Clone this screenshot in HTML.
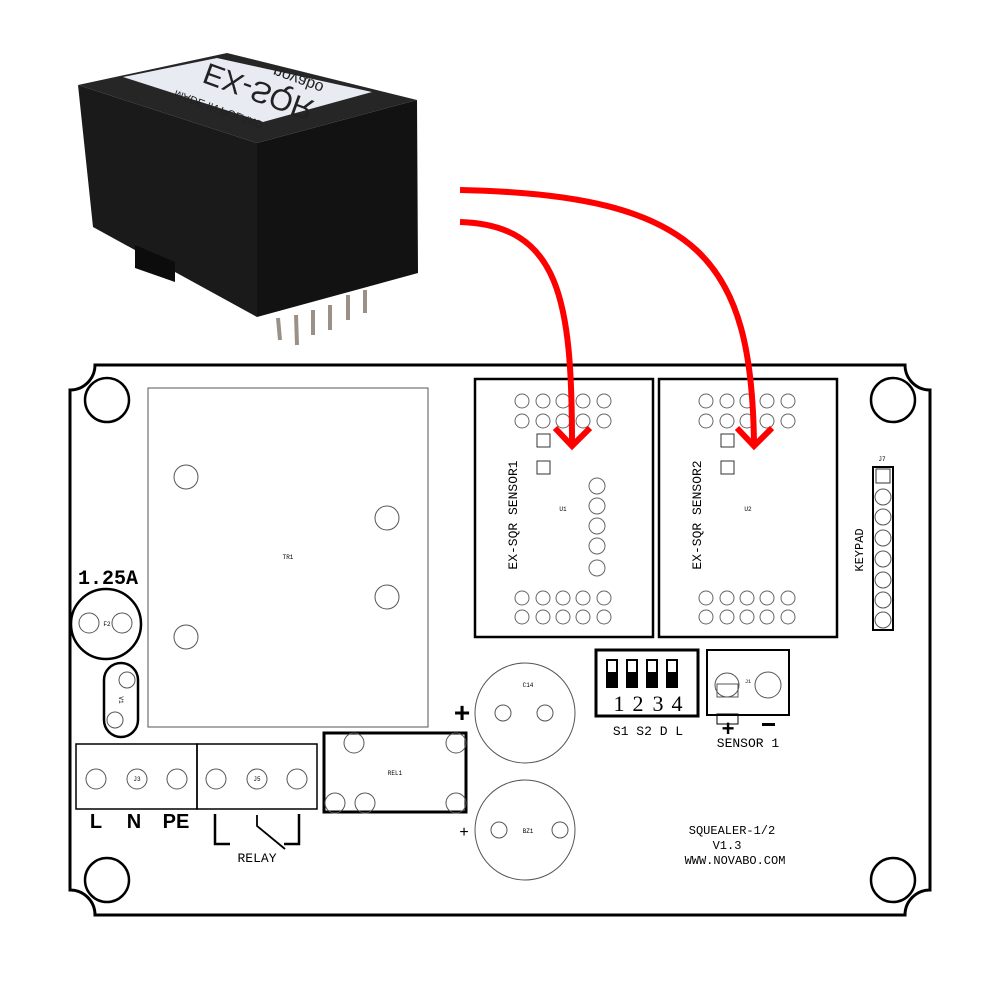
<!DOCTYPE html>
<html><head><meta charset="utf-8"><style>html,body{margin:0;padding:0;background:#fff}svg{display:block}</style></head>
<body>
<svg width="1000" height="1000" viewBox="0 0 1000 1000" xmlns="http://www.w3.org/2000/svg" font-family="Liberation Mono, monospace">
<rect width="1000" height="1000" fill="#fff"/>
<!-- module photo -->
<polygon points="78,85 257,143 257,317 93,227" fill="#1a1a1a"/>
<polygon points="257,143 417,100 418,273 257,317" fill="#121212"/>
<polygon points="78,85 227,53 417,100 257,143" fill="#262626"/>
<polygon points="135,245 175,262 175,282 135,268" fill="#0c0c0c"/>
<polygon points="123,77 217,58 372,92 263,122" fill="#e8ecf2"/>
<g font-family="Liberation Sans, sans-serif" fill="#222" text-anchor="middle">
<text transform="translate(262,82) rotate(20) scale(1,-1)" font-size="30">EX-SQR</text>
<text transform="translate(220,106) rotate(20) scale(1,-1)" font-size="11">MADE IN POLAND</text>
<text transform="translate(300,75) rotate(20) scale(1,-1)" font-size="16">novabo</text>
</g>
<g stroke="#9a9088" stroke-width="4">
<line x1="278" y1="318" x2="280" y2="340"/><line x1="296" y1="315" x2="297" y2="345"/><line x1="313" y1="310" x2="313" y2="335"/><line x1="330" y1="305" x2="330" y2="330"/><line x1="348" y1="295" x2="348" y2="320"/><line x1="365" y1="290" x2="365" y2="313"/></g>
<!-- board outline -->
<path d="M95,365 H905 A25,25 0 0 0 930,390 V890 A25,25 0 0 0 905,915 H95 A25,25 0 0 0 70,890 V390 A25,25 0 0 0 95,365 Z" fill="none" stroke="#000" stroke-width="3"/>
<g fill="none" stroke="#000" stroke-width="2.5">
<circle cx="107" cy="400" r="22"/><circle cx="893" cy="400" r="22"/><circle cx="107" cy="880" r="22"/><circle cx="893" cy="880" r="22"/>
</g>
<!-- TR1 -->
<g fill="none" stroke="#555" stroke-width="1">
<rect x="148" y="388" width="280" height="339"/>
<circle cx="186" cy="477" r="12"/><circle cx="387" cy="518" r="12"/><circle cx="387" cy="597" r="12"/><circle cx="186" cy="637" r="12"/>
</g>
<text x="288" y="559" font-size="6" text-anchor="middle">TR1</text>
<!-- F2 -->
<text x="108" y="584" font-size="20" font-weight="bold" text-anchor="middle">1.25A</text>
<circle cx="106" cy="624" r="35" fill="none" stroke="#000" stroke-width="2.5"/>
<g fill="none" stroke="#555"><circle cx="89" cy="623" r="10"/><circle cx="122" cy="623" r="10"/></g>
<text x="107" y="626" font-size="6" text-anchor="middle">F2</text>
<!-- V1 -->
<rect x="104" y="663" width="34" height="74" rx="17" fill="none" stroke="#000" stroke-width="2.5"/>
<g fill="none" stroke="#555"><circle cx="127" cy="680" r="8"/><circle cx="115" cy="720" r="8"/></g>
<text x="0" y="0" font-size="6" transform="translate(119,700) rotate(90)" text-anchor="middle">V1</text>
<!-- J3 J5 -->
<g fill="none" stroke="#000" stroke-width="1.5"><rect x="76" y="744" width="121" height="65"/><rect x="197" y="744" width="120" height="65"/></g>
<g fill="none" stroke="#555"><circle cx="96" cy="779" r="10"/><circle cx="137" cy="779" r="10"/><circle cx="177" cy="779" r="10"/><circle cx="216" cy="779" r="10"/><circle cx="257" cy="779" r="10"/><circle cx="297" cy="779" r="10"/></g>
<text x="137" y="781" font-size="6" text-anchor="middle">J3</text><text x="257" y="781" font-size="6" text-anchor="middle">J5</text>
<g font-family="Liberation Sans, sans-serif" font-size="20" font-weight="bold" text-anchor="middle"><text x="96" y="828">L</text><text x="134" y="828">N</text><text x="176" y="828">PE</text></g>
<g fill="none" stroke="#000" stroke-width="2.5"><path d="M215,814 V844 H230"/><path d="M299,814 V844 H284"/><path d="M257,815 V826 L285,849" stroke-width="1.8"/></g>
<text x="257" y="862" font-size="13" text-anchor="middle">RELAY</text>
<!-- REL1 -->
<rect x="324" y="733" width="142" height="79" fill="none" stroke="#000" stroke-width="3"/>
<g fill="none" stroke="#555"><circle cx="354" cy="743" r="10"/><circle cx="456" cy="743" r="10"/><circle cx="335" cy="803" r="10"/><circle cx="365" cy="803" r="10"/><circle cx="456" cy="803" r="10"/></g>
<text x="395" y="775" font-size="6" text-anchor="middle">REL1</text>
<!-- C14 BZ1 -->
<g fill="none" stroke="#555"><circle cx="525" cy="713" r="50"/><circle cx="503" cy="713" r="8"/><circle cx="545" cy="713" r="8"/>
<circle cx="525" cy="830" r="50"/><circle cx="499" cy="830" r="8"/><circle cx="560" cy="830" r="8"/></g>
<text x="528" y="687" font-size="6" text-anchor="middle">C14</text><text x="528" y="833" font-size="6" text-anchor="middle">BZ1</text>
<text x="462" y="722" font-family="Liberation Sans, sans-serif" font-size="28" font-weight="bold" text-anchor="middle">+</text>
<text x="464" y="837" font-family="Liberation Sans, sans-serif" font-size="16" text-anchor="middle">+</text>
<!-- sensor boxes -->
<g id="s1">
<rect x="475" y="379" width="178" height="258" fill="none" stroke="#000" stroke-width="2.5"/>
<g fill="none" stroke="#666">
<circle cx="522" cy="401" r="7"/><circle cx="543" cy="401" r="7"/><circle cx="563" cy="401" r="7"/><circle cx="583" cy="401" r="7"/><circle cx="604" cy="401" r="7"/>
<circle cx="522" cy="421" r="7"/><circle cx="543" cy="421" r="7"/><circle cx="563" cy="421" r="7"/><circle cx="583" cy="421" r="7"/><circle cx="604" cy="421" r="7"/>
<circle cx="522" cy="598" r="7"/><circle cx="543" cy="598" r="7"/><circle cx="563" cy="598" r="7"/><circle cx="583" cy="598" r="7"/><circle cx="604" cy="598" r="7"/>
<circle cx="522" cy="617" r="7"/><circle cx="543" cy="617" r="7"/><circle cx="563" cy="617" r="7"/><circle cx="583" cy="617" r="7"/><circle cx="604" cy="617" r="7"/>
<rect x="537" y="434" width="13" height="13" stroke="#333"/><rect x="537" y="461" width="13" height="13" stroke="#333"/>
</g>
</g>
<g fill="none" stroke="#666"><circle cx="597" cy="486" r="8"/><circle cx="597" cy="506" r="8"/><circle cx="597" cy="526" r="8"/><circle cx="597" cy="546" r="8"/><circle cx="597" cy="568" r="8"/></g>
<use href="#s1" transform="translate(184,0)"/>
<text x="0" y="0" font-size="13" transform="translate(517,515) rotate(-90)" text-anchor="middle">EX-SQR SENSOR1</text>
<text x="0" y="0" font-size="13" transform="translate(701,515) rotate(-90)" text-anchor="middle">EX-SQR SENSOR2</text>
<text x="563" y="511" font-size="6" text-anchor="middle">U1</text><text x="748" y="511" font-size="6" text-anchor="middle">U2</text>
<!-- keypad -->
<rect x="873" y="467" width="20" height="163" fill="none" stroke="#000" stroke-width="2"/>
<rect x="876" y="469" width="14" height="14" fill="none" stroke="#333"/>
<g fill="none" stroke="#555"><circle cx="883" cy="497" r="8"/><circle cx="883" cy="517" r="8"/><circle cx="883" cy="538" r="8"/><circle cx="883" cy="559" r="8"/><circle cx="883" cy="580" r="8"/><circle cx="883" cy="600" r="8"/><circle cx="883" cy="620" r="8"/></g>
<text x="882" y="461" font-size="6" text-anchor="middle">J7</text>
<text x="0" y="0" font-size="12" transform="translate(863,550) rotate(-90)" text-anchor="middle">KEYPAD</text>
<!-- DIP -->
<rect x="596" y="650" width="102" height="66" fill="none" stroke="#000" stroke-width="3"/>
<g><rect x="606" y="659" width="12" height="29" fill="#000"/><rect x="626" y="659" width="12" height="29" fill="#000"/><rect x="646" y="659" width="12" height="29" fill="#000"/><rect x="666" y="659" width="12" height="29" fill="#000"/>
<rect x="608" y="661" width="8" height="11" fill="#fff"/><rect x="628" y="661" width="8" height="11" fill="#fff"/><rect x="648" y="661" width="8" height="11" fill="#fff"/><rect x="668" y="661" width="8" height="11" fill="#fff"/></g>
<g font-family="Liberation Serif, serif" font-size="22" text-anchor="middle"><text x="619" y="711">1</text><text x="638" y="711">2</text><text x="658" y="711">3</text><text x="677" y="711">4</text></g>
<text x="648" y="735" font-size="13" text-anchor="middle">S1 S2 D  L</text>
<!-- J1 -->
<rect x="707" y="650" width="82" height="65" fill="none" stroke="#000" stroke-width="2"/>
<g fill="none" stroke="#555"><circle cx="727" cy="685" r="12"/><rect x="717" y="684" width="21" height="13"/><circle cx="768" cy="685" r="13"/></g>
<text x="745" y="683" font-size="5">J1</text>
<rect x="717" y="714" width="21" height="10" fill="none" stroke="#000"/>
<text x="728" y="736" font-family="Liberation Sans, sans-serif" font-size="22" font-weight="bold" text-anchor="middle">+</text>
<rect x="762" y="723" width="13" height="3" fill="#000"/>
<text x="748" y="747" font-size="13" text-anchor="middle">SENSOR 1</text>
<!-- board text -->
<g font-size="12" text-anchor="middle"><text x="732" y="834">SQUEALER-1/2</text><text x="727" y="849">V1.3</text><text x="735" y="864">WWW.NOVABO.COM</text></g>
<!-- red arrows -->
<g fill="none" stroke="#f00" stroke-width="6" stroke-linecap="butt">
<path d="M460,190 C700,195 752,260 754,445"/>
<path d="M460,222 C560,225 572,300 572,445"/>
<path d="M737,428 L754,446 L772,428"/>
<path d="M555,428 L572,446 L590,428"/>
</g>
</svg>
</body></html>
